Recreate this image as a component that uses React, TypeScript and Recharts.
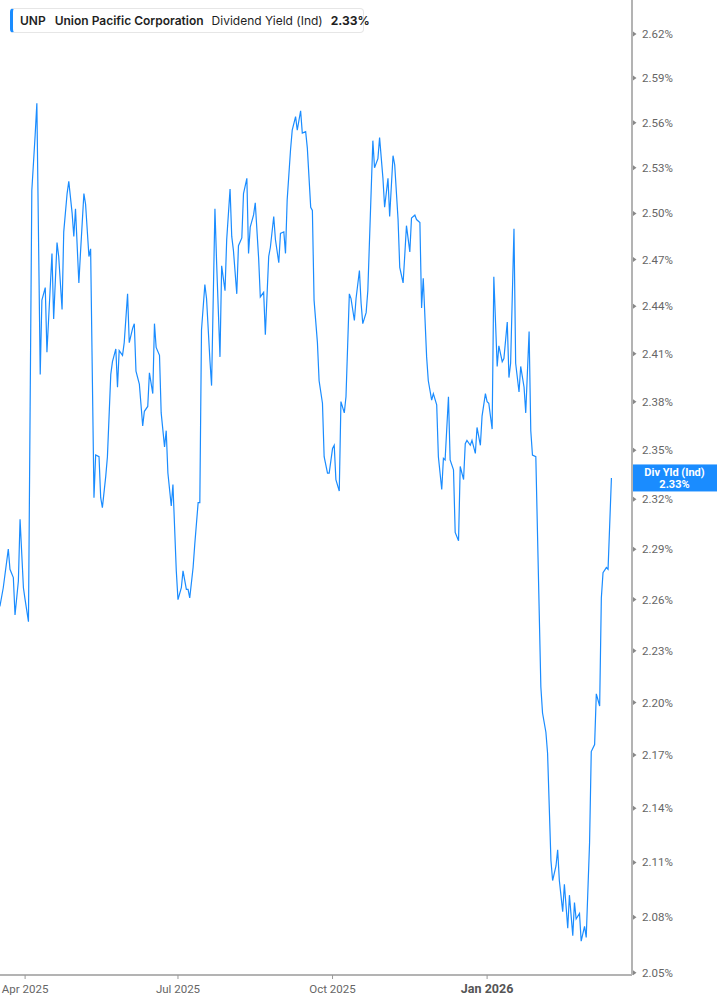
import { LineChart, Line, XAxis, YAxis, ReferenceLine } from "recharts";

const TICKER = "UNP";
const COMPANY = "Union Pacific Corporation";
const METRIC = "Dividend Yield (Ind)";
const BADGE_LABEL = "Div Yld (Ind)";

const LINE_COLOR = "#1a8cff";
const AXIS_COLOR = "#b3b3b3";

// trading days, counted in calendar days from 1 Apr 2025
const days = [
  -15, -13, -10, -9, -7, -6, -4, -3, -1, 0,
  2, 4, 6, 7, 9, 10, 12, 13, 14, 16,
  17, 19, 20, 22, 23, 25, 26, 28, 29, 30,
  32, 33, 35, 36, 38, 39, 41, 42, 44, 45,
  46, 48, 49, 51, 52, 54, 55, 56, 58, 59,
  61, 62, 64, 65, 66, 68, 70, 71, 73, 74,
  76, 77, 78, 80, 81, 83, 84, 85, 87, 88,
  90, 91, 93, 94, 96, 97, 98, 100, 101, 103,
  104, 105, 107, 108, 110, 111, 113, 114, 116, 117,
  119, 120, 122, 123, 124, 126, 127, 129, 130, 132,
  133, 134, 136, 137, 139, 140, 142, 143, 145, 146,
  148, 149, 151, 152, 154, 155, 156, 158, 159, 161,
  162, 164, 165, 167, 168, 170, 171, 172, 174, 175,
  177, 178, 180, 181, 183, 184, 185, 187, 188, 190,
  191, 193, 194, 196, 197, 199, 200, 201, 203, 204,
  206, 207, 208, 210, 211, 213, 214, 216, 217, 219,
  220, 222, 223, 225, 226, 227, 229, 230, 232, 233,
  235, 236, 237, 239, 240, 242, 243, 245, 246, 248,
  249, 250, 252, 253, 255, 256, 258, 259, 261, 262,
  263, 265, 266, 268, 269, 271, 272, 274, 275, 276,
  278, 279, 281, 282, 284, 285, 287, 288, 289, 291,
  292, 294, 295, 297, 298, 300, 301, 302, 304, 307,
  308, 310, 311, 313, 314, 316, 317, 318, 320, 321,
  323, 324, 326, 327, 328, 330, 331, 333, 334, 336,
  337, 339, 340, 342, 343, 344, 346, 347, 349,
];

// dividend yield, %
const yields = [
  2.256, 2.267, 2.29, 2.278, 2.273, 2.251, 2.271, 2.308, 2.267, 2.26,
  2.247, 2.515, 2.552, 2.573, 2.397, 2.444, 2.452, 2.411, 2.432, 2.474,
  2.432, 2.481, 2.472, 2.438, 2.488, 2.513, 2.521, 2.5, 2.485, 2.503,
  2.455, 2.475, 2.513, 2.506, 2.472, 2.477, 2.321, 2.347, 2.346, 2.321,
  2.315, 2.334, 2.346, 2.397, 2.405, 2.413, 2.389, 2.412, 2.409, 2.417,
  2.448, 2.417, 2.426, 2.429, 2.399, 2.391, 2.365, 2.374, 2.377, 2.398,
  2.385, 2.429, 2.414, 2.409, 2.373, 2.352, 2.362, 2.336, 2.316, 2.329,
  2.277, 2.26, 2.267, 2.277, 2.266, 2.266, 2.261, 2.279, 2.293, 2.318,
  2.318, 2.425, 2.454, 2.445, 2.406, 2.39, 2.503, 2.468, 2.408, 2.466,
  2.45, 2.483, 2.516, 2.485, 2.476, 2.448, 2.479, 2.484, 2.513, 2.523,
  2.474, 2.491, 2.499, 2.507, 2.471, 2.446, 2.449, 2.422, 2.472, 2.478,
  2.498, 2.483, 2.468, 2.487, 2.488, 2.474, 2.509, 2.542, 2.555, 2.564,
  2.555, 2.568, 2.553, 2.554, 2.543, 2.504, 2.502, 2.444, 2.417, 2.393,
  2.379, 2.346, 2.336, 2.336, 2.351, 2.353, 2.332, 2.325, 2.38, 2.373,
  2.383, 2.448, 2.445, 2.431, 2.445, 2.463, 2.442, 2.429, 2.436, 2.45,
  2.515, 2.548, 2.53, 2.536, 2.55, 2.523, 2.504, 2.523, 2.498, 2.538,
  2.532, 2.496, 2.465, 2.455, 2.473, 2.492, 2.475, 2.497, 2.499, 2.496,
  2.494, 2.439, 2.458, 2.408, 2.393, 2.381, 2.385, 2.378, 2.346, 2.326,
  2.345, 2.344, 2.383, 2.344, 2.338, 2.3, 2.295, 2.34, 2.332, 2.354,
  2.356, 2.353, 2.356, 2.348, 2.364, 2.353, 2.371, 2.385, 2.38, 2.379,
  2.363, 2.459, 2.402, 2.415, 2.405, 2.407, 2.43, 2.395, 2.404, 2.49,
  2.404, 2.386, 2.402, 2.389, 2.373, 2.424, 2.362, 2.347, 2.346, 2.209,
  2.194, 2.183, 2.171, 2.111, 2.1, 2.108, 2.117, 2.1, 2.083, 2.098,
  2.074, 2.092, 2.07, 2.088, 2.079, 2.082, 2.067, 2.075, 2.069, 2.121,
  2.172, 2.176, 2.205, 2.198, 2.261, 2.276, 2.279, 2.278, 2.333,
];

const xTicks = [0, 91, 183, 275];
const xTickLabels = ["Apr 2025", "Jul 2025", "Oct 2025", "Jan 2026"];
const yTicks = [
  2.05, 2.08, 2.11, 2.14, 2.17, 2.2, 2.23, 2.26, 2.29, 2.32,
  2.35, 2.38, 2.41, 2.44, 2.47, 2.5, 2.53, 2.56, 2.59, 2.62,
];

const data = days.map((day, i) => ({ day, value: yields[i] }));
const lastYield = yields[yields.length - 1];

function XTick(props: any) {
  const { x, y, payload } = props;
  const idx = xTicks.indexOf(payload.value);
  const isYear = idx === xTicks.length - 1;
  return (
    <text
      x={x}
      y={y}
      dy={12}
      textAnchor="middle"
      fontFamily="Roboto"
      fontSize={isYear ? 12.5 : 11.5}
      fontWeight={isYear ? 700 : 400}
      fill={isYear ? "#555" : "#666"}
    >
      {xTickLabels[idx]}
    </text>
  );
}

function YTick(props: any) {
  const { x, y, payload } = props;
  return (
    <g>
      <path
        d={`M${x - 9},${y - 2.5}L${x - 5.5},${y}L${x - 9},${y + 2.5}Z`}
        fill="#888"
      />
      <text x={x} y={y} dy={4} fontFamily="Roboto" fontSize={11.5} fill="#666">
        {Number(payload.value).toFixed(2)}%
      </text>
    </g>
  );
}

function Badge(props: any) {
  const vb = props.viewBox || {};
  const cy = vb.y + (vb.height || 0) / 2;
  const left = vb.x + vb.width;
  const w = 85;
  return (
    <g>
      <rect x={left} y={cy - 13.5} width={w} height={27} fill={LINE_COLOR} />
      <text
        x={left + w / 2}
        y={cy - 6}
        dy={3.8}
        textAnchor="middle"
        fontFamily="Roboto"
        fontSize={11}
        fontWeight={700}
        fill="#fff"
      >
        {BADGE_LABEL}
      </text>
      <text
        x={left + w / 2}
        y={cy + 6}
        dy={3.8}
        textAnchor="middle"
        fontFamily="Roboto"
        fontSize={11}
        fontWeight={700}
        fill="#fff"
      >
        {lastYield.toFixed(2)}%
      </text>
    </g>
  );
}

function Header() {
  return (
    <div
      style={{
        position: "absolute",
        left: 10,
        top: 8,
        width: 354,
        height: 25,
        boxSizing: "border-box",
        border: "1px solid #e6e6e6",
        borderLeft: `3px solid ${LINE_COLOR}`,
        borderRadius: 4,
        background: "#fff",
        display: "flex",
        alignItems: "center",
        paddingLeft: 7,
        fontFamily: "Inter",
        fontSize: 12,
        color: "#1f1f1f",
        whiteSpace: "nowrap",
      }}
    >
      <span style={{ fontWeight: 600, marginRight: 9 }}>{TICKER}</span>
      <span style={{ fontWeight: 600, marginRight: 8 }}>{COMPANY}</span>
      <span style={{ fontWeight: 400, marginRight: 8 }}>{METRIC}</span>
      <span style={{ fontWeight: 700 }}>{lastYield.toFixed(2)}%</span>
    </div>
  );
}

export default function App() {
  return (
    <div
      style={{
        position: "absolute",
        left: 0,
        top: 0,
        width: 717,
        height: 1005,
        background: "#fff",
      }}
    >
      <LineChart
        width={717}
        height={1005}
        data={data}
        margin={{ top: 0, right: 0, bottom: 0, left: 0 }}
      >
        <XAxis
          dataKey="day"
          type="number"
          domain={[-14.94, 361.25]}
          ticks={xTicks}
          interval={0}
          allowDataOverflow
          height={30}
          axisLine={{ stroke: AXIS_COLOR, strokeWidth: 2 }}
          tickLine={{ stroke: "#999" }}
          tickSize={4}
          tickMargin={2}
          tick={<XTick />}
        />
        <YAxis
          orientation="right"
          type="number"
          scale="log"
          domain={[2.0488, 2.6434]}
          ticks={yTicks}
          interval={0}
          allowDataOverflow
          width={85}
          axisLine={{ stroke: AXIS_COLOR, strokeWidth: 2 }}
          tickLine={false}
          tickSize={0}
          tickMargin={10}
          tick={<YTick />}
        />
        <Line
          type="linear"
          dataKey="value"
          stroke={LINE_COLOR}
          strokeWidth={1.2}
          dot={false}
          isAnimationActive={false}
        />
        <ReferenceLine
          y={lastYield}
          stroke="none"
          ifOverflow="visible"
          label={(p: any) => <Badge {...p} />}
        />
      </LineChart>
      <Header />
    </div>
  );
}
